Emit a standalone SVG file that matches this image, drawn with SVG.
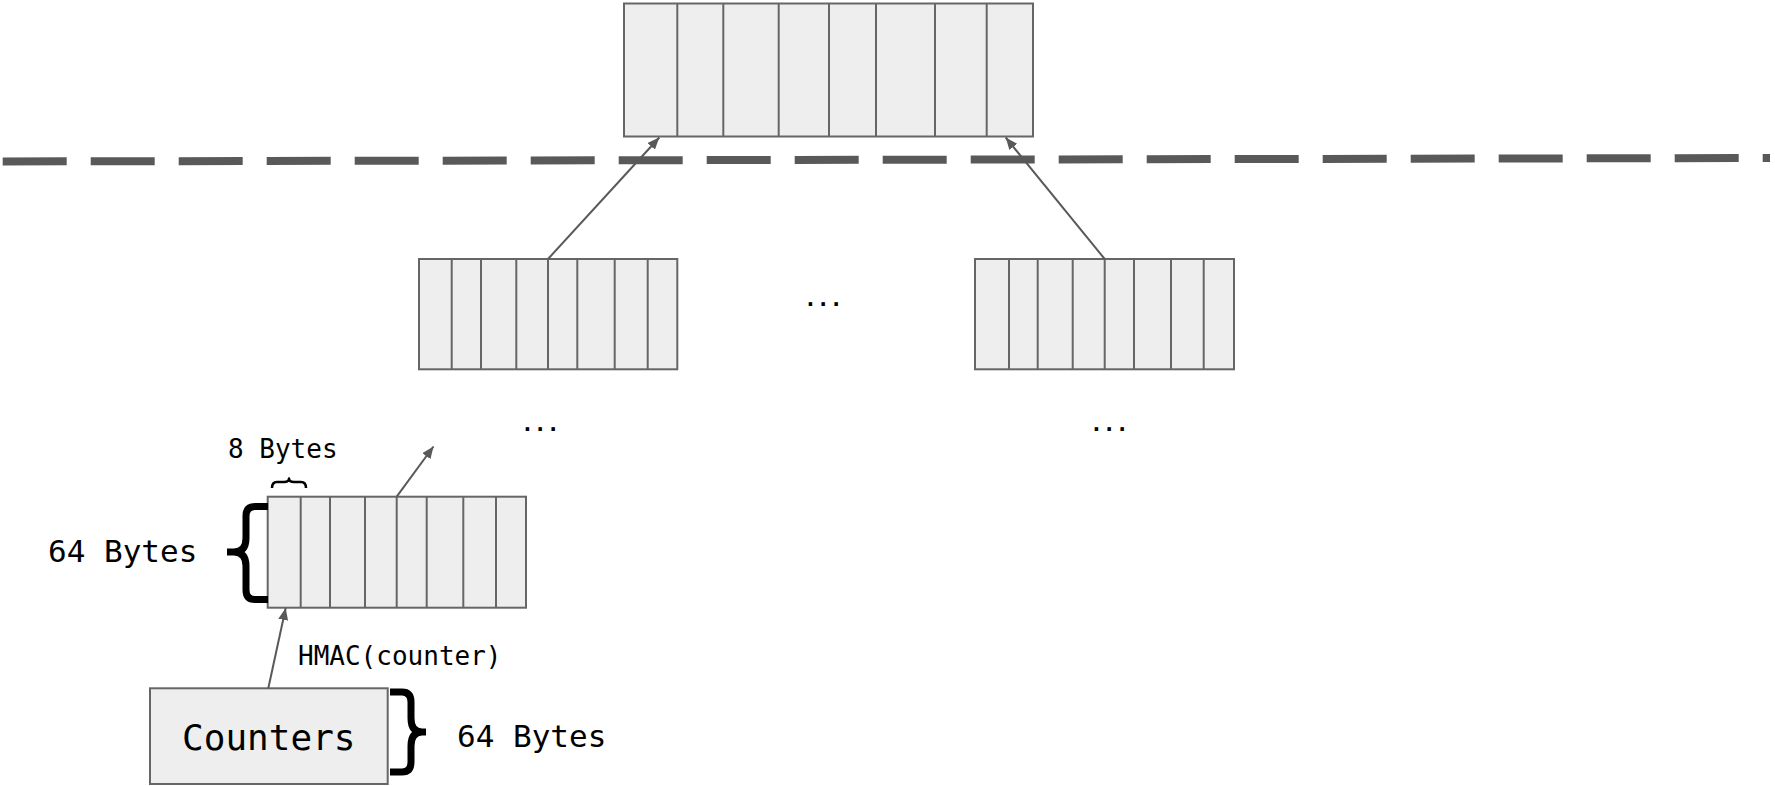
<svg xmlns="http://www.w3.org/2000/svg" width="1775" height="786" viewBox="0 0 1775 786">
<style>
.cell{fill:#eeeeee;stroke:#666666;stroke-width:2}
.div{stroke:#666666;stroke-width:2}
.conn{stroke:#595959;stroke-width:2;fill:none}
.brace{fill:none;stroke:#000;stroke-linecap:butt;stroke-linejoin:round}
.t{font-family:"DejaVu Sans Mono","Liberation Mono",monospace;fill:#000}
.dots{font-family:"DejaVu Sans Mono","Liberation Mono",monospace;font-weight:bold;fill:#000}
</style>
<defs>
<marker id="arr" markerUnits="userSpaceOnUse" markerWidth="14" markerHeight="12" refX="12" refY="5" orient="auto">
<path d="M0,0 L12,5 L0,10 z" fill="#595959"/>
</marker>
</defs>
<rect width="1775" height="786" fill="#ffffff"/>

<g id="top-block">
<rect class="cell" x="624" y="3.5" width="409" height="133"/>
<path class="div" d="M677.3,3.5V136.5M723.3,3.5V136.5M778.7,3.5V136.5M829,3.5V136.5M876,3.5V136.5M935,3.5V136.5M986.7,3.5V136.5"/>
</g>

<g id="boundary">
<line x1="2.7" y1="161.5" x2="1770" y2="158" stroke="#595959" stroke-width="8" stroke-dasharray="64 24"/>
</g>

<g id="mid-left-block">
<rect class="cell" x="419" y="259" width="258.3" height="110.3"/>
<path class="div" d="M451.7,259V369.3M481,259V369.3M516.3,259V369.3M548,259V369.3M577.3,259V369.3M614.7,259V369.3M647.7,259V369.3"/>
</g>

<g id="mid-right-block">
<rect class="cell" x="975" y="259" width="259" height="110.3"/>
<path class="div" d="M1009,259V369.3M1037.7,259V369.3M1072.7,259V369.3M1104.7,259V369.3M1134,259V369.3M1171,259V369.3M1203.7,259V369.3"/>
</g>

<g id="hmac-block">
<rect class="cell" x="267.7" y="496.7" width="258.3" height="111"/>
<path class="div" d="M300.7,496.7V607.7M330,496.7V607.7M365,496.7V607.7M396.7,496.7V607.7M426.7,496.7V607.7M463.3,496.7V607.7M496,496.7V607.7"/>
</g>

<g id="counters">
<rect class="cell" x="150" y="688.3" width="237.7" height="95.7"/>
<text class="t" x="268.8" y="750" font-size="36" text-anchor="middle">Counters</text>
</g>

<g id="connectors">
<line class="conn" x1="548" y1="259" x2="659.3" y2="137.5" marker-end="url(#arr)"/>
<line class="conn" x1="1104.7" y1="259" x2="1005.7" y2="137.5" marker-end="url(#arr)"/>
<line class="conn" x1="396.7" y1="496.7" x2="433.5" y2="446.5" marker-end="url(#arr)"/>
<line class="conn" x1="268.3" y1="688.3" x2="285.7" y2="608" marker-end="url(#arr)"/>
</g>

<g id="ellipses">
<text class="dots" x="804" y="306" font-size="21.3">...</text>
<text class="dots" x="521" y="431" font-size="21.3">...</text>
<text class="dots" x="1090" y="431" font-size="21.3">...</text>
</g>

<g id="brace-8-bytes">
<path class="brace" stroke-width="2.5" d="M272,488 Q272,482 277,482 L284,482 Q289,482 289,478.5 Q289,482 294,482 L301,482 Q306,482 306,488"/>
<text class="t" x="228" y="458" font-size="26">8 Bytes</text>
</g>

<g id="brace-64-left">
<path class="brace" stroke-width="7" d="M268,506.5 L255,506.5 Q246,506.5 246,516 L246,538 Q246,552 234,552 L227,552 M234,552 Q246,552 246,566 L246,590 Q246,599.5 255,599.5 L268,599.5"/>
<text class="t" x="48" y="561.7" font-size="31">64 Bytes</text>
</g>

<g id="brace-64-right">
<path class="brace" stroke-width="7" d="M390,692 L402,692 Q411,692 411,702 L411,718 Q411,732 422,732 L426,732 M422,732 Q411,732 411,746 L411,762 Q411,772 402,772 L390,772"/>
<text class="t" x="457" y="746.7" font-size="31">64 Bytes</text>
</g>

<g id="hmac-label">
<text class="t" x="298" y="665" font-size="26">HMAC(counter)</text>
</g>
</svg>
